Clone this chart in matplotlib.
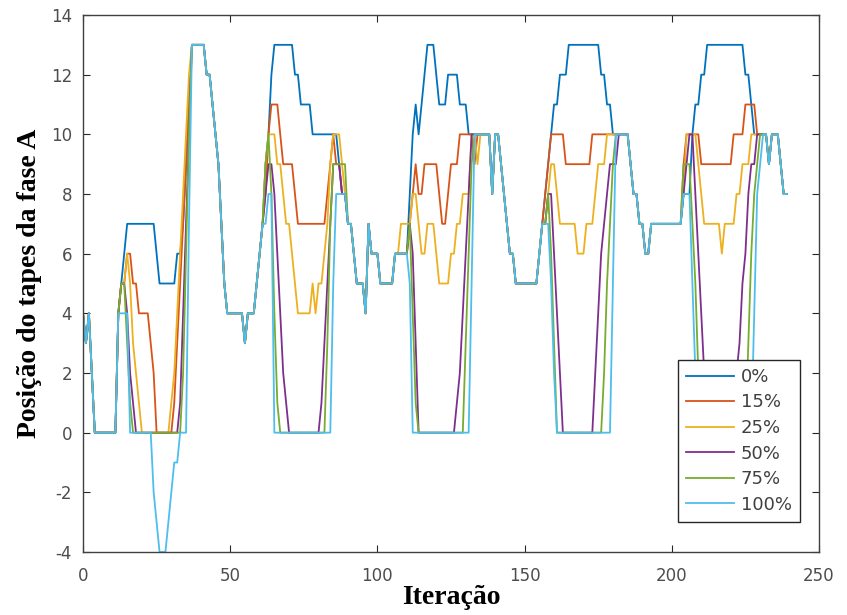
import numpy as np
import matplotlib
matplotlib.use('Agg')
import matplotlib.pyplot as plt

plt.rcParams['axes.unicode_minus'] = False

# Tap position per iteration, 100% case (drawn last, sits on top of the rest)
TAP_100 = [
    4, 3, 4, 2, 0, 0, 0, 0, 0, 0, 0, 0, 4, 4, 4, 4, 0, 0, 0, 0,
    0, 0, 0, 0, -2, -3, -4, -4, -4, -3, -2, -1, -1, 0, 0, 0, 7, 13, 13, 13,
    13, 13, 12, 12, 11, 10, 9, 7, 5, 4, 4, 4, 4, 4, 4, 3, 4, 4, 4, 5,
    6, 7, 7, 8, 8, 0, 0, 0, 0, 0, 0, 0, 0, 0, 0, 0, 0, 0, 0, 0,
    0, 0, 0, 0, 0, 5, 8, 8, 8, 8, 7, 7, 6, 5, 5, 5, 4, 7, 6, 6,
    6, 5, 5, 5, 5, 5, 6, 6, 6, 6, 6, 5, 0, 0, 0, 0, 0, 0, 0, 0,
    0, 0, 0, 0, 0, 0, 0, 0, 0, 0, 0, 0, 5, 10, 10, 10, 10, 10, 10, 8,
    10, 10, 9, 8, 7, 6, 6, 5, 5, 5, 5, 5, 5, 5, 5, 6, 7, 7, 7, 5,
    2, 0, 0, 0, 0, 0, 0, 0, 0, 0, 0, 0, 0, 0, 0, 0, 0, 0, 0, 0,
    5, 10, 10, 10, 10, 10, 9, 8, 8, 7, 7, 6, 6, 7, 7, 7, 7, 7, 7, 7,
    7, 7, 7, 7, 8, 8, 8, 5, 2, 0, 0, 0, 0, 0, 0, 0, 0, 0, 0, 0,
    0, 0, 0, 0, 0, 0, 0, 0, 4, 8, 9, 10, 10, 9, 10, 10, 10, 9, 8, 8,
]

# Other cases: same as 100% except in these (start iteration, values) stretches
TAP_0 = [
    (12, [4, 5, 6, 7, 7, 7, 7, 7, 7, 7, 7, 7, 7, 6, 5, 5, 5, 5, 5, 5, 6, 6, 7, 9, 11, 13]),
    (62, [9, 10, 12, 13, 13, 13, 13, 13, 13, 13, 12, 12, 11, 11, 11, 11, 10, 10, 10, 10,
          10, 10, 10, 10, 10, 9, 8, 8]),
    (111, [8, 10, 11, 10, 11, 12, 13, 13, 13, 12, 11, 11, 11, 12, 12, 12, 12, 11, 11, 11, 10, 10]),
    (156, [7, 8, 9, 10, 11, 11, 12, 12, 12, 13, 13, 13, 13, 13, 13, 13, 13, 13, 13, 13,
           12, 12, 11, 11, 10]),
    (207, [10, 11, 11, 12, 12, 13, 13, 13, 13, 13, 13, 13, 13, 13, 13, 13, 13, 13, 12, 12,
           11, 10, 10, 10, 10, 10]),
]
TAP_15 = [
    (12, [4, 5, 5, 6, 6, 5, 5, 4, 4, 4, 4, 3, 2, 0, 0, 0, 0, 0, 0, 1, 3, 5, 7, 9, 11, 13]),
    (62, [8, 10, 11, 11, 11, 10, 9, 9, 9, 9, 8, 7, 7, 7, 7, 7, 7, 7, 7, 7, 7, 8, 9, 10, 9, 9, 8, 8]),
    (111, [7, 8, 9, 8, 8, 9, 9, 9, 9, 9, 8, 7, 7, 8, 9, 9, 9, 10, 10, 10, 10, 10, 9]),
    (156, [7, 8, 9, 10, 10, 10, 10, 10, 9, 9, 9, 9, 9, 9, 9, 9, 9, 10, 10, 10, 10, 10, 10,
           10, 10, 10, 10, 10, 10, 10]),
    (204, [9, 10, 10, 10, 10, 10, 9, 9, 9, 9, 9, 9, 9, 9, 9, 9, 9, 10, 10, 10, 10, 11, 11, 11,
           11, 10, 10, 10, 10]),
]
TAP_25 = [
    (12, [4, 5, 5, 6, 5, 3, 2, 1, 0, 0, 0, 0, 0, 0, 0, 0, 0, 0, 1, 2, 4, 6, 8, 10, 12, 13]),
    (62, [9, 10, 10, 10, 9, 9, 8, 7, 7, 6, 5, 4, 4, 4, 4, 4, 5, 4, 5, 5, 6, 7, 9, 10, 10, 10, 9, 8]),
    (107, [6, 7, 7, 7, 7, 8, 8, 7, 6, 6, 7, 7, 7, 6, 5, 5, 5, 5, 6, 6, 7, 7, 8, 8, 8, 10, 10, 9]),
    (157, [7, 8, 9, 9, 8, 7, 7, 7, 7, 7, 7, 6, 6, 6, 7, 7, 7, 8, 9, 9, 9, 10, 10, 10, 10, 10,
           10, 10, 10]),
    (204, [8, 10, 10, 10, 10, 9, 8, 7, 7, 7, 7, 7, 7, 6, 7, 7, 7, 7, 8, 8, 9, 9, 9, 10, 10, 10,
           10, 10, 10]),
]
TAP_50 = [
    (12, [4, 5, 5, 4, 2, 1, 0, 0, 0, 0, 0, 0, 0, 0, 0, 0, 0, 0, 0, 0, 0, 1, 4, 7, 10, 13]),
    (62, [8, 9, 9, 8, 6, 4, 2, 1, 0, 0, 0, 0, 0, 0, 0, 0, 0, 0, 0, 1, 3, 5, 7, 9, 9, 9, 8, 8]),
    (111, [7, 6, 3, 0, 0, 0, 0, 0, 0, 0, 0, 0, 0, 0, 0, 0, 1, 2, 4, 6, 8, 10]),
    (157, [7, 8, 8, 6, 4, 2, 0, 0, 0, 0, 0, 0, 0, 0, 0, 0, 0, 2, 4, 6, 7, 8, 9, 9, 9, 10]),
    (205, [9, 10, 10, 8, 6, 4, 2, 0, 0, 0, 0, 0, 0, 0, 0, 0, 0, 2, 3, 5, 6, 8, 9, 9, 10, 10,
           10, 10]),
]
TAP_75 = [
    (12, [4, 5, 5, 3, 1, 0, 0, 0, 0, 0, 0, 0, 0, 0, 0, 0, 0, 0, 0, 0, 0, 0, 2, 6, 10, 13]),
    (62, [9, 10, 8, 4, 1, 0, 0, 0, 0, 0, 0, 0, 0, 0, 0, 0, 0, 0, 0, 0, 0, 3, 7, 9, 9, 9, 9, 9]),
    (111, [7, 4, 1, 0, 0, 0, 0, 0, 0, 0, 0, 0, 0, 0, 0, 0, 0, 0, 0, 3, 6, 9]),
    (158, [8, 6, 3, 0, 0, 0, 0, 0, 0, 0, 0, 0, 0, 0, 0, 0, 0, 0, 0, 2, 5, 7, 9]),
    (204, [9, 9, 9, 7, 5, 2, 0, 0, 0, 0, 0, 0, 0, 0, 0, 0, 0, 0, 0, 0, 0, 0, 3, 6, 8, 9, 10,
           10, 10]),
]

LABELS = ['0%', '15%', '25%', '50%', '75%', '100%']
COLORS = ['#0072BD', '#D95319', '#EDB120', '#7E2F8E', '#77AC30', '#4DBEEE']


def build(changes):
    tap = np.array(TAP_100, dtype=float)
    for start, values in changes:
        tap[start:start + len(values)] = values
    return tap


series = [build(TAP_0), build(TAP_15), build(TAP_25),
          build(TAP_50), build(TAP_75), np.array(TAP_100, dtype=float)]

fig = plt.figure(figsize=(8.47, 6.15), dpi=100)
ax = fig.add_axes([83 / 847, 63 / 615, 736 / 847, 537 / 615])

for tap, label, color in zip(series, LABELS, COLORS):
    ax.plot(np.arange(len(tap)), tap, color=color, lw=1.3, label=label)

ax.set_xlim(0, 250)
ax.set_ylim(-4, 14)
ax.set_xticks(range(0, 251, 50))
ax.set_yticks(range(-4, 15, 2))

# matlab look: box on, ticks inside
ax.tick_params(direction='in', top=True, right=True, length=5, width=0.8,
               color='#262626', labelcolor='#4d4d4d', labelsize=12)
ax.tick_params(axis='x', pad=11)
ax.tick_params(axis='y', pad=8)
for lab in ax.get_xticklabels() + ax.get_yticklabels():
    lab.set_family('DejaVu Sans')
for sp in ax.spines.values():
    sp.set_color('#404040')
    sp.set_linewidth(1.0)

ax.set_xlabel('Iteração', family='Liberation Serif', fontweight='bold',
              fontsize=20, labelpad=0)
ax.set_ylabel('Posição do tapes da fase A', family='Liberation Serif',
              fontweight='bold', fontsize=20, labelpad=6)

leg = ax.legend(loc='lower right', bbox_to_anchor=(0.974, 0.056),
                borderaxespad=0, prop={'family': 'DejaVu Sans', 'size': 13},
                handlelength=2.7, handletextpad=0.35, labelspacing=0.42,
                borderpad=0.45, fancybox=False, framealpha=1)
leg.get_frame().set_edgecolor('#262626')
leg.get_frame().set_linewidth(1.0)
for t in leg.get_texts():
    t.set_color('#404040')

fig.savefig('out.png', dpi=100)
